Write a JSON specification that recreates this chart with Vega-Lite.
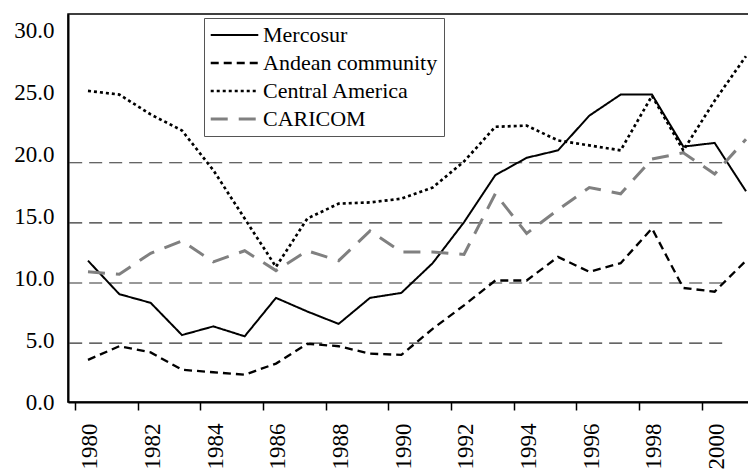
{
  "$schema": "https://vega.github.io/schema/vega-lite/v6.json",
  "width": 683,
  "height": 388,
  "autosize": {"type": "none"},
  "padding": {"left": 68, "top": 14, "right": 0, "bottom": 69},
  "background": "white",
  "config": {
    "view": {"stroke": "#000", "strokeWidth": 1.5},
    "font": "'Liberation Serif', 'Times New Roman', 'DejaVu Serif', serif"
  },
  "datasets": {
    "grid": [{"value": 4.75}, {"value": 9.6}, {"value": 14.45}, {"value": 19.3}],
    "series": [
      {"series": "Mercosur", "year": 1980, "value": 11.4},
      {"series": "Mercosur", "year": 1981, "value": 8.7},
      {"series": "Mercosur", "year": 1982, "value": 8.0},
      {"series": "Mercosur", "year": 1983, "value": 5.4},
      {"series": "Mercosur", "year": 1984, "value": 6.1},
      {"series": "Mercosur", "year": 1985, "value": 5.3},
      {"series": "Mercosur", "year": 1986, "value": 8.4},
      {"series": "Mercosur", "year": 1987, "value": 7.3},
      {"series": "Mercosur", "year": 1988, "value": 6.3},
      {"series": "Mercosur", "year": 1989, "value": 8.4},
      {"series": "Mercosur", "year": 1990, "value": 8.8},
      {"series": "Mercosur", "year": 1991, "value": 11.2},
      {"series": "Mercosur", "year": 1992, "value": 14.5},
      {"series": "Mercosur", "year": 1993, "value": 18.3},
      {"series": "Mercosur", "year": 1994, "value": 19.7},
      {"series": "Mercosur", "year": 1995, "value": 20.3},
      {"series": "Mercosur", "year": 1996, "value": 23.1},
      {"series": "Mercosur", "year": 1997, "value": 24.8},
      {"series": "Mercosur", "year": 1998, "value": 24.8},
      {"series": "Mercosur", "year": 1999, "value": 20.6},
      {"series": "Mercosur", "year": 2000, "value": 20.9},
      {"series": "Mercosur", "year": 2001, "value": 17.0},
      {"series": "Andean community", "year": 1980, "value": 3.4},
      {"series": "Andean community", "year": 1981, "value": 4.5},
      {"series": "Andean community", "year": 1982, "value": 4.0},
      {"series": "Andean community", "year": 1983, "value": 2.6},
      {"series": "Andean community", "year": 1984, "value": 2.4},
      {"series": "Andean community", "year": 1985, "value": 2.2},
      {"series": "Andean community", "year": 1986, "value": 3.1},
      {"series": "Andean community", "year": 1987, "value": 4.7},
      {"series": "Andean community", "year": 1988, "value": 4.5},
      {"series": "Andean community", "year": 1989, "value": 3.9},
      {"series": "Andean community", "year": 1990, "value": 3.8},
      {"series": "Andean community", "year": 1991, "value": 5.9},
      {"series": "Andean community", "year": 1992, "value": 7.8},
      {"series": "Andean community", "year": 1993, "value": 9.8},
      {"series": "Andean community", "year": 1994, "value": 9.8},
      {"series": "Andean community", "year": 1995, "value": 11.7},
      {"series": "Andean community", "year": 1996, "value": 10.5},
      {"series": "Andean community", "year": 1997, "value": 11.2},
      {"series": "Andean community", "year": 1998, "value": 14.0},
      {"series": "Andean community", "year": 1999, "value": 9.2},
      {"series": "Andean community", "year": 2000, "value": 8.9},
      {"series": "Andean community", "year": 2001, "value": 11.4},
      {"series": "Central America", "year": 1980, "value": 25.1},
      {"series": "Central America", "year": 1981, "value": 24.8},
      {"series": "Central America", "year": 1982, "value": 23.2},
      {"series": "Central America", "year": 1983, "value": 21.9},
      {"series": "Central America", "year": 1984, "value": 18.7},
      {"series": "Central America", "year": 1985, "value": 14.8},
      {"series": "Central America", "year": 1986, "value": 10.9},
      {"series": "Central America", "year": 1987, "value": 14.8},
      {"series": "Central America", "year": 1988, "value": 16.0},
      {"series": "Central America", "year": 1989, "value": 16.1},
      {"series": "Central America", "year": 1990, "value": 16.4},
      {"series": "Central America", "year": 1991, "value": 17.3},
      {"series": "Central America", "year": 1992, "value": 19.4},
      {"series": "Central America", "year": 1993, "value": 22.2},
      {"series": "Central America", "year": 1994, "value": 22.3},
      {"series": "Central America", "year": 1995, "value": 21.1},
      {"series": "Central America", "year": 1996, "value": 20.7},
      {"series": "Central America", "year": 1997, "value": 20.3},
      {"series": "Central America", "year": 1998, "value": 24.7},
      {"series": "Central America", "year": 1999, "value": 20.3},
      {"series": "Central America", "year": 2000, "value": 24.3},
      {"series": "Central America", "year": 2001, "value": 27.9},
      {"series": "CARICOM", "year": 1980, "value": 10.5},
      {"series": "CARICOM", "year": 1981, "value": 10.3},
      {"series": "CARICOM", "year": 1982, "value": 12.0},
      {"series": "CARICOM", "year": 1983, "value": 13.0},
      {"series": "CARICOM", "year": 1984, "value": 11.3},
      {"series": "CARICOM", "year": 1985, "value": 12.2},
      {"series": "CARICOM", "year": 1986, "value": 10.6},
      {"series": "CARICOM", "year": 1987, "value": 12.2},
      {"series": "CARICOM", "year": 1988, "value": 11.4},
      {"series": "CARICOM", "year": 1989, "value": 13.8},
      {"series": "CARICOM", "year": 1990, "value": 12.1},
      {"series": "CARICOM", "year": 1991, "value": 12.1},
      {"series": "CARICOM", "year": 1992, "value": 11.9},
      {"series": "CARICOM", "year": 1993, "value": 16.8},
      {"series": "CARICOM", "year": 1994, "value": 13.6},
      {"series": "CARICOM", "year": 1995, "value": 15.5},
      {"series": "CARICOM", "year": 1996, "value": 17.3},
      {"series": "CARICOM", "year": 1997, "value": 16.8},
      {"series": "CARICOM", "year": 1998, "value": 19.6},
      {"series": "CARICOM", "year": 1999, "value": 20.1},
      {"series": "CARICOM", "year": 2000, "value": 18.4},
      {"series": "CARICOM", "year": 2001, "value": 21.2}
    ]
  },
  "encoding": {
    "y": {
      "field": "value",
      "type": "quantitative",
      "scale": {"domain": [0, 31.3], "nice": false, "zero": true},
      "axis": {
        "values": [0, 5, 10, 15, 20, 25, 30],
        "format": ".1f",
        "grid": false,
        "title": null,
        "tickSize": 0,
        "labelPadding": 14,
        "domainColor": "#000",
        "domainWidth": 2,
        "labelFont": "'Liberation Serif', 'Times New Roman', 'DejaVu Serif', serif",
        "labelFontSize": 23,
        "labelColor": "#000"
      }
    }
  },
  "layer": [
    {
      "data": {"name": "grid"},
      "mark": {"type": "rule", "color": "#333", "strokeWidth": 1.2, "strokeDash": [13, 7]},
      "encoding": {
        "x": {"datum": 1979.4, "type": "quantitative"},
        "x2": {"datum": 2000.45}
      }
    },
    {
      "data": {"name": "series"},
      "mark": {"type": "line", "strokeCap": "butt"},
      "encoding": {
        "x": {
          "field": "year",
          "type": "quantitative",
          "scale": {"domain": [1979.362, 2001.16], "nice": false, "zero": false},
          "axis": {
            "values": [1980, 1981, 1982, 1983, 1984, 1985, 1986, 1987, 1988, 1989, 1990, 1991, 1992, 1993, 1994, 1995, 1996, 1997, 1998, 1999, 2000, 2001],
            "format": "d",
            "labelExpr": "datum.value % 2 == 0 ? datum.label : ''",
            "tickOffset": -13,
            "labelOffset": 15,
            "labelAngle": -90,
            "tickSize": 8,
            "labelPadding": 13,
            "title": null,
            "grid": false,
            "domainColor": "#000",
            "domainWidth": 2,
            "tickColor": "#000",
            "tickWidth": 1.5,
            "labelFont": "'Liberation Serif', 'Times New Roman', 'DejaVu Serif', serif",
            "labelFontSize": 23,
            "labelColor": "#000",
            "labelOverlap": false,
            "labelBound": false,
            "labelFlush": false
          }
        },
        "color": {
          "field": "series",
          "type": "nominal",
          "scale": {
            "domain": ["Mercosur", "Andean community", "Central America", "CARICOM"],
            "range": ["#000000", "#000000", "#000000", "#808080"]
          },
          "legend": {
            "orient": "none",
            "legendX": 136,
            "legendY": 4,
            "title": null,
            "symbolType": "M-1.37,0H4.97",
            "symbolSize": 225,
            "symbolStrokeWidth": 3,
            "labelFont": "'Liberation Serif', 'Times New Roman', 'DejaVu Serif', serif",
            "labelFontSize": 22,
            "labelColor": "#000",
            "labelOffset": 31,
            "labelLimit": 300,
            "padding": 6,
            "rowPadding": 6,
            "fillColor": "#ffffff",
            "strokeColor": "#555555"
          }
        },
        "strokeDash": {
          "field": "series",
          "type": "nominal",
          "scale": {
            "domain": ["Mercosur", "Andean community", "Central America", "CARICOM"],
            "range": [[1, 0], [8, 5], [3, 3], [17, 11]]
          },
          "legend": {
            "orient": "none",
            "legendX": 136,
            "legendY": 4,
            "title": null,
            "symbolType": "M-1.37,0H4.97",
            "symbolSize": 225,
            "symbolStrokeWidth": 3,
            "labelFont": "'Liberation Serif', 'Times New Roman', 'DejaVu Serif', serif",
            "labelFontSize": 22,
            "labelColor": "#000",
            "labelOffset": 31,
            "labelLimit": 300,
            "padding": 6,
            "rowPadding": 6,
            "fillColor": "#ffffff",
            "strokeColor": "#555555"
          }
        },
        "strokeWidth": {
          "field": "series",
          "type": "ordinal",
          "scale": {
            "domain": ["Mercosur", "Andean community", "Central America", "CARICOM"],
            "range": [2, 3, 3.2, 3]
          },
          "legend": null
        }
      }
    }
  ]
}
